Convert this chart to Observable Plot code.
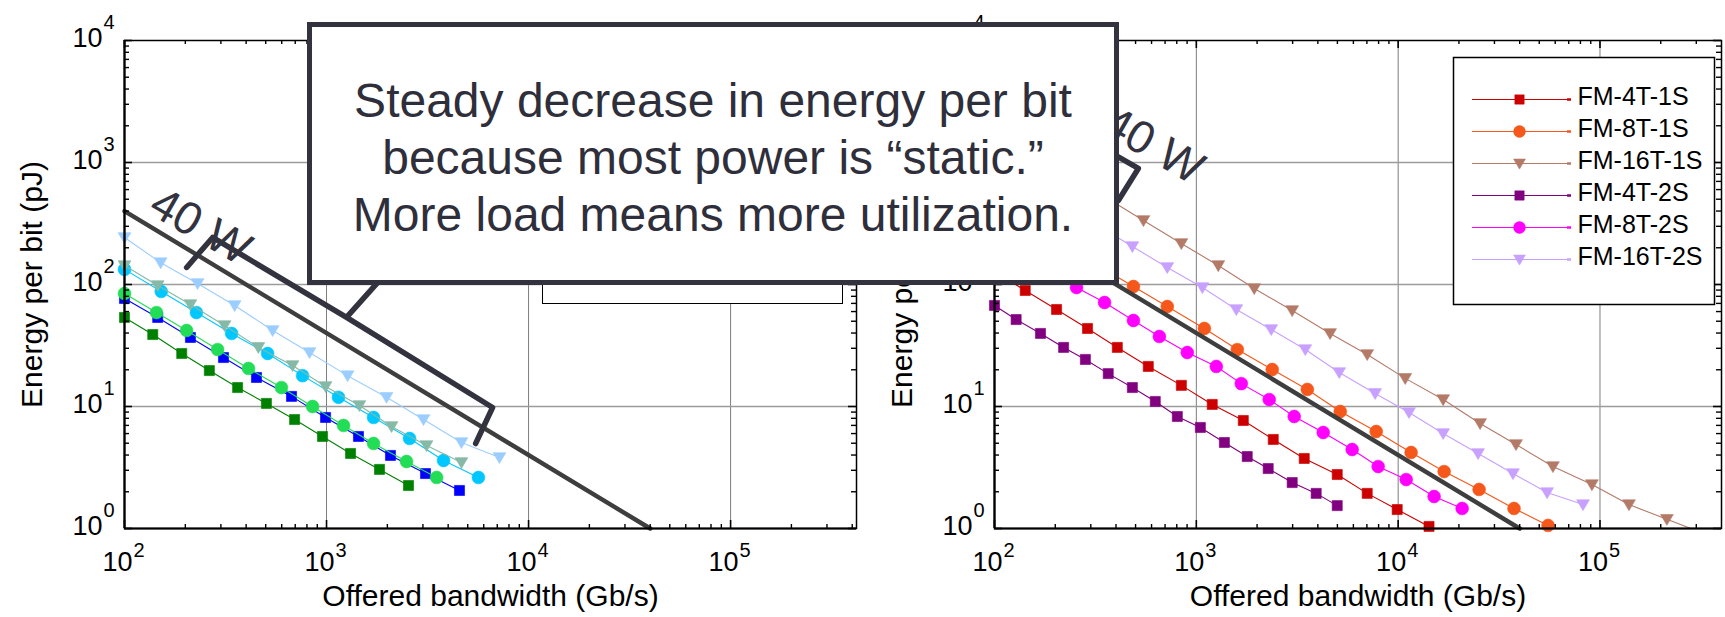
<!DOCTYPE html>
<html>
<head>
<meta charset="utf-8">
<script src="https://cdn.jsdelivr.net/npm/d3@7"></script>
<script src="https://cdn.jsdelivr.net/npm/@observablehq/plot@0.6"></script>
<style>
  html, body { margin: 0; padding: 0; background: #fff; }
  #root { position: relative; width: 1725px; height: 617px; overflow: hidden; background: #fff;
          font-family: "Liberation Sans", Arial, Helvetica, sans-serif; }
  .abs { position: absolute; top: 0; }
  #leftLegend { position: absolute; left: 542px; top: 57px; width: 301px; height: 247px; box-sizing: border-box;
                border: 1.5px solid #000; background: #fff; }
  #rightLegend { position: absolute; left: 1453px; top: 57px; }
  #callout { position: absolute; left: 307px; top: 22px; width: 812px; height: 263px; box-sizing: border-box;
             border: 5px solid #33333f; background: #fff; color: #2f2f3b; font-size: 48px; line-height: 57px;
             text-align: center; padding-top: 45px; white-space: nowrap; }
</style>
</head>
<body>
<div id="root">
  <div id="leftPanel" class="abs" style="left:0px;width:870px;"></div>
  <div id="rightPanel" class="abs" style="left:870px;width:855px;"></div>
  <div id="leftLegend"></div>
  <div id="rightLegend"></div>
  <div id="callout"></div>
</div>
<script>
// ---------------- axes / tick labels ----------------
const xMajor = [1e2, 1e3, 1e4, 1e5];
const xTickExp = ["2", "3", "4", "5"];
const yMajor = [1e0, 1e1, 1e2, 1e3, 1e4];
const yTickExp = ["0", "1", "2", "3", "4"];
// y tick labels of the right panel that lie entirely under the callout box
const rightCoveredYLabels = [1e3];
const xMinor = [200, 300, 400, 500, 600, 700, 800, 900,
                2000, 3000, 4000, 5000, 6000, 7000, 8000, 9000,
                20000, 30000, 40000, 50000, 60000, 70000, 80000, 90000,
                200000, 300000, 400000];
const yMinor = [2, 3, 4, 5, 6, 7, 8, 9, 20, 30, 40, 50, 60, 70, 80, 90,
                200, 300, 400, 500, 600, 700, 800, 900, 2000, 3000, 4000, 5000, 6000, 7000, 8000, 9000];
const xTitle = "Offered bandwidth (Gb/s)";
const yTitle = "Energy per bit (pJ)";
const leftXMax = 4.2e5;
const rightXMax = 4.0e5;

// ---------------- right panel series ----------------
const rightNames = ["FM-4T-1S", "FM-8T-1S", "FM-16T-1S", "FM-4T-2S", "FM-8T-2S", "FM-16T-2S"];
const bw_fm4t1s  = [100, 142, 203, 289, 406, 578, 843, 1199, 1709, 2405, 3425, 4990, 7025, 9890, 14220];
const e_fm4t1s   = [128, 89.3, 62.4, 43.6, 30.5, 21.3, 14.9, 10.4, 7.68, 5.37, 3.75, 2.77, 1.94, 1.43, 1.04];
const bw_fm8t1s  = [100, 148, 220, 330, 488, 718, 1096, 1596, 2377, 3548, 5165, 7785, 11590, 16900, 25180, 37500, 55300];
const e_fm8t1s   = [440, 300, 207, 141, 96.3, 66.0, 43.6, 29.3, 20.1, 13.8, 9.10, 6.24, 4.20, 2.93, 2.09, 1.46, 1.06];
const bw_fm16t1s = [100, 153, 233, 357, 547, 843, 1285, 1936, 2985, 4600, 7025, 10840, 16710, 25470, 38370, 58480, 91200, 139200, 214600, 327000];
const e_fm16t1s  = [1830, 1185, 782, 516, 335, 217, 143, 92.7, 61.2, 39.7, 26.7, 17.0, 11.4, 7.26, 4.88, 3.22, 2.29, 1.57, 1.19, 0.91];
const bw_fm4t2s  = [100, 128, 169, 220, 282, 366, 482, 626, 805, 1047, 1377, 1787, 2270, 2985, 3925, 4990];
const e_fm4t2s   = [67.3, 51.6, 39.7, 30.5, 24.3, 18.6, 14.3, 11.0, 8.28, 6.73, 5.07, 3.89, 3.10, 2.38, 1.94, 1.54];
const bw_fm8t2s  = [100, 137, 188, 255, 351, 488, 656, 902, 1256, 1670, 2297, 3055, 4253, 5918, 7960, 10960, 15070, 20750];
const e_fm8t2s   = [234, 173, 128, 94.5, 71.2, 50.7, 37.5, 27.7, 21.3, 15.4, 11.4, 8.28, 6.12, 4.44, 3.22, 2.52, 1.83, 1.46];
const bw_fm16t2s = [100, 148, 220, 326, 482, 718, 1072, 1578, 2350, 3467, 5105, 7691, 11320, 16710, 24890, 37070, 54700, 82400];
const e_fm16t2s  = [1000, 673, 453, 305, 205, 138, 94.5, 62.4, 42.8, 29.3, 19.0, 12.8, 8.93, 6.01, 4.12, 2.82, 1.97, 1.57];

// ---------------- left panel series (legend hidden behind callout) ----------------
const leftNames = ["4T-2S", "4T-1S", "8T-2S", "8T-1S", "16T-2S", "16T-1S"];
const bw_l4t2s  = [100, 138, 192, 263, 363, 504, 695, 955, 1315, 1829, 2545];
const e_l4t2s   = [53.7, 38.9, 27.2, 19.7, 14.3, 10.6, 7.82, 5.68, 4.12, 3.05, 2.25];
const bw_l4t1s  = [100, 146, 212, 309, 450, 671, 989, 1439, 2073, 3090, 4550];
const e_l4t1s   = [76.8, 53.7, 36.8, 25.2, 17.3, 12.1, 8.13, 5.68, 3.97, 2.82, 2.05];
const bw_l8t2s  = [100, 144, 203, 289, 411, 598, 853, 1214, 1709, 2489, 3508];
const e_l8t2s   = [84.4, 58.9, 42.0, 29.3, 20.5, 14.3, 10.0, 6.99, 4.98, 3.54, 2.62];
const bw_l8t1s  = [100, 152, 227, 339, 511, 761, 1146, 1709, 2576, 3795, 5648];
const e_l8t1s   = [133, 87.7, 58.9, 39.7, 27.2, 17.9, 11.9, 8.13, 5.47, 3.61, 2.62];
const bw_l16t2s = [100, 146, 212, 313, 460, 679, 989, 1455, 2098, 3126, 4655];
const e_l16t2s  = [143, 98.1, 68.5, 46.1, 30.5, 21.7, 14.6, 10.2, 6.86, 4.79, 3.48];
const bw_l16t1s = [100, 151, 230, 351, 541, 824, 1271, 1982, 3020, 4655, 7178];
const e_l16t1s  = [243, 151, 102, 67.3, 42.0, 27.7, 17.9, 11.9, 7.82, 5.07, 3.82];

// ---------------- 40 W reference line and annotations ----------------
const watts40BW = [100, 40000];
const watts40E  = [400, 1];
const wattLabel = "40 W";
const leftBraceBW = [203, 273, 1256, 1849, 1256, 6637, 5470];
const leftBraceE  = [138, 243, 53.7, 110, 53.7, 9.81, 4.97];
const leftLabelBW = 238, leftLabelE = 299;
const rightBraceBW = [335, 516, 411];
const rightBraceE  = [1352, 893, 488];
const rightLabelBW = 612, rightLabelE = 1378;
const calloutLines = ["Steady decrease in energy per bit",
                      "because most power is \u201Cstatic.\u201D",
                      "More load means more utilization."];

// ---------------- styles ----------------
const FONT = '"Liberation Sans", Arial, Helvetica, sans-serif';
const INK = "#000";
const ANNOT = "#33333f";
const H = 617, MT = 40, MB = 89;

const triangleDown = {
  draw(context, size) {
    const r = Math.sqrt(size / Math.PI);
    context.moveTo(-r, -0.75 * r);
    context.lineTo(r, -0.75 * r);
    context.lineTo(0, 0.95 * r);
    context.closePath();
  }
};
const SYMBOL = {square: "square", circle: "circle", triangle: triangleDown};
const RADIUS = {square: 5.7, circle: 6.4, triangle: 6.4};

const rightSeries = [
  {name: rightNames[0], bw: bw_fm4t1s,  e: e_fm4t1s,  color: "#cc0000", shape: "square"},
  {name: rightNames[1], bw: bw_fm8t1s,  e: e_fm8t1s,  color: "#f5581a", shape: "circle"},
  {name: rightNames[2], bw: bw_fm16t1s, e: e_fm16t1s, color: "#b47a68", shape: "triangle"},
  {name: rightNames[3], bw: bw_fm4t2s,  e: e_fm4t2s,  color: "#800080", shape: "square"},
  {name: rightNames[4], bw: bw_fm8t2s,  e: e_fm8t2s,  color: "#ff00ff", shape: "circle"},
  {name: rightNames[5], bw: bw_fm16t2s, e: e_fm16t2s, color: "#c8a0ff", shape: "triangle"}
];
const leftSeries = [
  {name: leftNames[0], bw: bw_l4t2s,  e: e_l4t2s,  color: "#008000", shape: "square"},
  {name: leftNames[1], bw: bw_l4t1s,  e: e_l4t1s,  color: "#0000ff", shape: "square"},
  {name: leftNames[2], bw: bw_l8t2s,  e: e_l8t2s,  color: "#22dd55", shape: "circle"},
  {name: leftNames[3], bw: bw_l8t1s,  e: e_l8t1s,  color: "#00c8ff", shape: "circle"},
  {name: leftNames[4], bw: bw_l16t2s, e: e_l16t2s, color: "#86b9a6", shape: "triangle"},
  {name: leftNames[5], bw: bw_l16t1s, e: e_l16t1s, color: "#9ccdff", shape: "triangle"}
];

function rowsOf(xs, ys) { return xs.map((x, i) => ({x, y: ys[i]})); }

function panel({width, ml, mr, xMax, series, braceBW, braceE, labelBW, labelE, coveredY = []}) {
  const plotW = width - ml - mr, plotH = H - MT - MB;
  const xm = xMinor.filter(v => v < xMax);
  const xM = xMajor.filter(v => v <= xMax);
  const yBaseLabels = yMajor.filter(v => !coveredY.includes(v));
  const marks = [
    Plot.ruleX(xM.slice(1), {x: d => d, stroke: "#7d7d7d", strokeWidth: 1}),
    Plot.ruleY(yMajor.slice(1, -1), {y: d => d, stroke: "#9c9c9c", strokeWidth: 1.3})
  ];
  for (const s of series) {
    const rows = rowsOf(s.bw, s.e);
    marks.push(Plot.line(rows, {x: "x", y: "y", stroke: s.color, strokeWidth: 1.1, clip: true}));
    marks.push(Plot.dot(rows, {x: "x", y: "y", filter: d => d.y >= 1 && d.x <= xMax,
      symbol: SYMBOL[s.shape], r: RADIUS[s.shape], fill: s.color, stroke: s.color, strokeWidth: 0.6}));
  }
  marks.push(Plot.line(rowsOf(watts40BW, watts40E), {x: "x", y: "y", stroke: "#3e3e3e", strokeWidth: 4.4}));
  marks.push(Plot.line(rowsOf(braceBW, braceE), {x: "x", y: "y", stroke: ANNOT, strokeWidth: 5.5,
    strokeLinejoin: "round", strokeLinecap: "round"}));
  marks.push(Plot.text([wattLabel], {x: labelBW, y: labelE, text: d => d, rotate: 30, fontSize: 46,
    textAnchor: "middle", lineAnchor: "middle", fill: ANNOT, fontFamily: FONT}));
  // inward ticks, MATLAB style
  marks.push(
    Plot.tickX(xm, {x: d => d, insetTop: plotH - 4, stroke: INK, strokeWidth: 1.4}),
    Plot.tickX(xm, {x: d => d, insetBottom: plotH - 4, stroke: INK, strokeWidth: 1.4}),
    Plot.tickX(xM, {x: d => d, insetTop: plotH - 8, stroke: INK, strokeWidth: 1.6}),
    Plot.tickX(xM, {x: d => d, insetBottom: plotH - 8, stroke: INK, strokeWidth: 1.6}),
    Plot.tickY(yMinor, {y: d => d, insetRight: plotW - 5, stroke: INK, strokeWidth: 1.4}),
    Plot.tickY(yMinor, {y: d => d, insetLeft: plotW - 5, stroke: INK, strokeWidth: 1.4}),
    Plot.tickY(yMajor, {y: d => d, insetRight: plotW - 8, stroke: INK, strokeWidth: 1.6}),
    Plot.tickY(yMajor, {y: d => d, insetLeft: plotW - 8, stroke: INK, strokeWidth: 1.6}),
    Plot.frame({stroke: INK, strokeWidth: 1.5}),
    Plot.ruleX([100], {x: d => d, stroke: INK, strokeWidth: 2.2}),
    Plot.ruleY([1], {y: d => d, stroke: INK, strokeWidth: 2.2})
  );
  // tick labels 10^k and axis titles
  marks.push(
    Plot.text(xM, {x: d => d, frameAnchor: "bottom", text: () => "10", textAnchor: "end", lineAnchor: "bottom",
      dx: 8, dy: 42, fontSize: 27, fill: INK, fontFamily: FONT}),
    Plot.text(xM, {x: d => d, frameAnchor: "bottom", text: d => xTickExp[xMajor.indexOf(d)], textAnchor: "start",
      lineAnchor: "bottom", dx: 9, dy: 28, fontSize: 20, fill: INK, fontFamily: FONT}),
    Plot.text(yBaseLabels, {y: d => d, frameAnchor: "left", text: () => "10", textAnchor: "end", lineAnchor: "bottom",
      dx: -22, dy: 6, fontSize: 27, fill: INK, fontFamily: FONT}),
    Plot.text(yBaseLabels.concat(yMajor.filter(v => coveredY.includes(v) && v === 1e4)),
      {y: d => d, frameAnchor: "left", text: d => yTickExp[yMajor.indexOf(d)], textAnchor: "start",
      lineAnchor: "bottom", dx: -21, dy: -12, fontSize: 20, fill: INK, fontFamily: FONT}),
    Plot.text([xTitle], {frameAnchor: "bottom", text: d => d, textAnchor: "middle", lineAnchor: "bottom",
      dy: 77, fontSize: 30, fill: INK, fontFamily: FONT}),
    Plot.text([yTitle], {frameAnchor: "left", text: d => d, rotate: -90, textAnchor: "middle",
      lineAnchor: "bottom", dx: -83, fontSize: 30, fill: INK, fontFamily: FONT})
  );
  return Plot.plot({
    width, height: H, marginLeft: ml, marginRight: mr, marginTop: MT, marginBottom: MB,
    style: {background: "transparent", fontFamily: FONT, overflow: "visible"},
    x: {type: "log", domain: [100, xMax], axis: null},
    y: {type: "log", domain: [1, 1e4], axis: null},
    marks
  });
}

function legendPlot() {
  const W = 261, LH = 247;
  const marks = [Plot.frame({fill: "#fff", stroke: INK, strokeWidth: 1.5})];
  for (const s of rightSeries) {
    marks.push(
      Plot.ruleY([s.name], {y: d => d, x1: 19, x2: 117, stroke: s.color, strokeWidth: 1.2}),
      Plot.ruleY([s.name], {y: d => d, x1: 114, x2: 118, stroke: s.color, strokeWidth: 2.5}),
      Plot.dot([s.name], {y: d => d, x: 66, symbol: SYMBOL[s.shape], r: RADIUS[s.shape] * 0.92,
        fill: s.color, stroke: s.color, strokeWidth: 0.6})
    );
  }
  marks.push(Plot.text(rightNames, {y: d => d, x: 124, text: d => d, textAnchor: "start", lineAnchor: "middle",
    dy: -3, fontSize: 25, fill: INK, fontFamily: FONT}));
  return Plot.plot({
    width: W, height: LH, margin: 0,
    style: {background: "transparent", fontFamily: FONT, overflow: "visible"},
    x: {domain: [0, W], range: [0, W], axis: null},
    y: {type: "point", domain: rightNames, range: [23, 220], axis: null},
    marks
  });
}

document.getElementById("leftPanel").append(panel({
  width: 870, ml: 124, mr: 14, xMax: leftXMax, series: leftSeries,
  braceBW: leftBraceBW, braceE: leftBraceE, labelBW: leftLabelBW, labelE: leftLabelE
}));
document.getElementById("rightPanel").append(panel({
  width: 855, ml: 124, mr: 4, xMax: rightXMax, series: rightSeries,
  braceBW: rightBraceBW, braceE: rightBraceE, labelBW: rightLabelBW, labelE: rightLabelE,
  coveredY: rightCoveredYLabels
}));
document.getElementById("rightLegend").append(legendPlot());
document.getElementById("callout").innerHTML = calloutLines.join("<br>");
</script>
</body>
</html>
